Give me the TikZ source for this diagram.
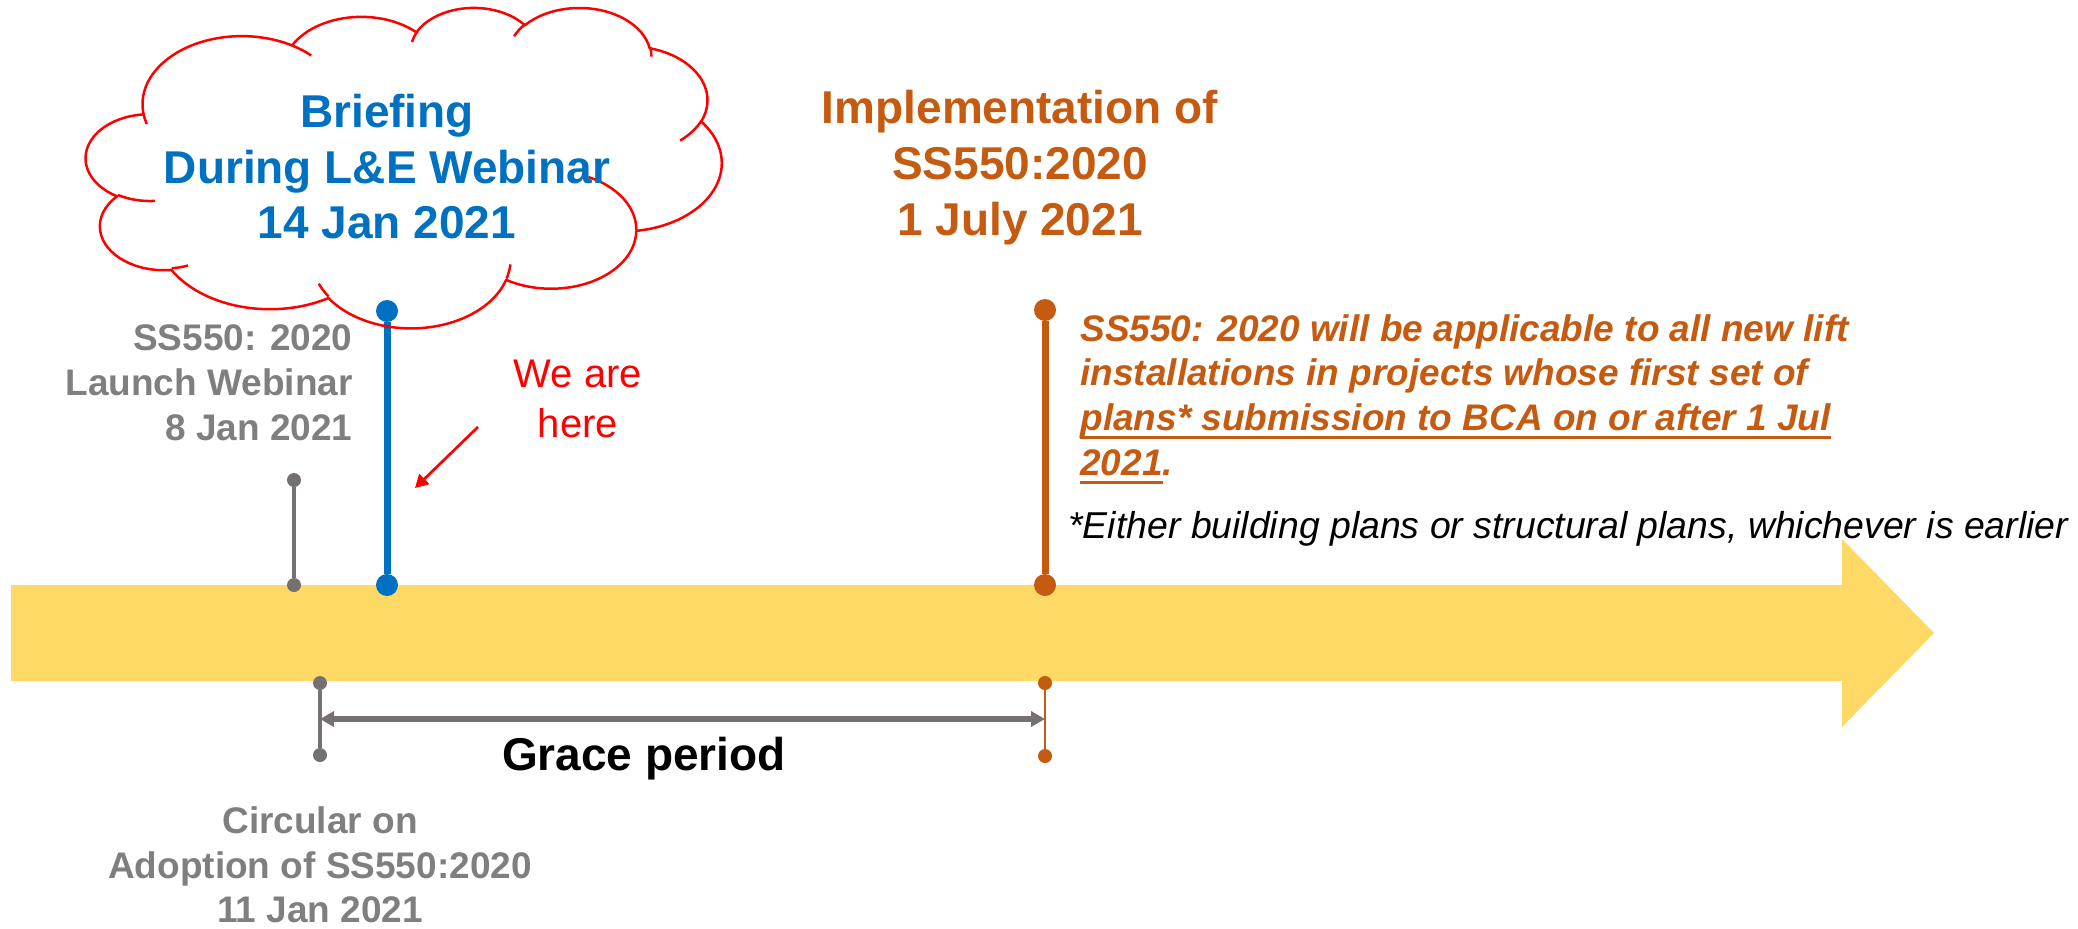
\documentclass[tikz,border=0pt]{standalone}
\usepackage{fontspec}
\setmainfont{Liberation Sans}
\usetikzlibrary{arrows.meta}
\definecolor{tlyellow}{HTML}{FFD966}
\definecolor{tlblue}{HTML}{0070C0}
\definecolor{tlorange}{HTML}{C55A11}
\definecolor{tlgrayline}{HTML}{767171}
\definecolor{tlgraytext}{HTML}{7F7F7F}
\newsavebox\ulbox
\newcommand\ulx[1]{\sbox\ulbox{#1}\rlap{\raisebox{-4.25pt}{\rule{\wd\ulbox}{1.5pt}}}\usebox\ulbox}
% OOXML arcTo -> TikZ arc (cloud shape 636 x 320 px, 1px = 0.5pt)
\newcommand\clprep[5]{%
  \pgfmathsetmacro\cloudtmpa{atan2((#2)*sin(#4),(#3)*cos(#4))}%
  \pgfmathsetmacro\cloudtmpb{atan2((#2)*sin((#4)+(#5)),(#3)*cos((#4)+(#5)))}%
  \pgfmathsetmacro\cloudtmpd{mod(\cloudtmpb-(\cloudtmpa)+720,360)}%
  \pgfmathsetmacro\cloudtmps{0-(\cloudtmpa)}%
  \pgfmathsetmacro\cloudtmpe{0-(\cloudtmpd)}%
  \pgfmathsetmacro\cloudtmpx{(#2)*0.00736111}%
  \pgfmathsetmacro\cloudtmpy{(#3)*0.0037037}%
  \expandafter\xdef\csname clrx#1\endcsname{\cloudtmpx pt}%
  \expandafter\xdef\csname clry#1\endcsname{\cloudtmpy pt}%
  \expandafter\xdef\csname clst#1\endcsname{\cloudtmps}%
  \expandafter\xdef\csname cld#1\endcsname{\cloudtmpe}%
}
\newcommand\clarc[1]{arc[x radius=\csname clrx#1\endcsname, y radius=\csname clry#1\endcsname, start angle=\csname clst#1\endcsname, delta angle=\csname cld#1\endcsname]}
\begin{document}
\begin{tikzpicture}[x=0.5pt,y=-0.5pt,
  timeline/.style={fill=tlyellow},
  cloudline/.style={draw=red, line width=1.25pt, line join=round},
  cloudhook/.style={draw=red, line width=1.25pt},
  txt/.style={inner sep=0pt, anchor=base},
  bigb/.style={font=\fontsize{23}{28}\selectfont\bfseries},
  midb/.style={font=\fontsize{18.5}{22.5}\selectfont\bfseries},
  parab/.style={font=\fontsize{18.5}{22.5}\selectfont\bfseries\itshape, text=tlorange, anchor=base west},
  bdot/.style={circle, fill=tlblue, inner sep=0pt, minimum size=11pt},
  odot/.style={circle, fill=tlorange, inner sep=0pt, minimum size=11pt},
  osdot/.style={circle, fill=tlorange, inner sep=0pt, minimum size=7pt},
  gdot/.style={circle, fill=tlgrayline, inner sep=0pt, minimum size=7pt},
  bluepin/.style={draw=tlblue, line width=3.5pt},
  orangepin/.style={draw=tlorange, line width=3.5pt},
  orangethin/.style={draw=tlorange, line width=1.2pt},
  graypin/.style={draw=tlgrayline, line width=2pt},
  grace/.style={draw=tlgrayline, line width=2.75pt, {Triangle[length=7pt,width=7.5pt]}-{Triangle[length=7pt,width=7.5pt]}},
  redarrow/.style={draw=red, line width=1.35pt, -{Triangle[length=6.5pt,width=7pt]}}
]
\useasboundingbox (0,0) rectangle (2078,928);

% timeline arrow
\fill[timeline] (11,585) -- (1842,585) -- (1842,539) -- (1934,633) -- (1842,727) -- (1842,681) -- (11,681) -- cycle;

% pins above the timeline
\node[gdot] (g1t) at (294,480) {};
\node[gdot] (g1b) at (294,585) {};
\draw[graypin] (g1t) -- (g1b);
\node[bdot] (bt) at (387,311) {};
\node[bdot] (bb) at (387,585) {};
\draw[bluepin] (bt) -- (bb);
\node[odot] (ot) at (1045,310) {};
\node[odot] (ob) at (1045,585) {};
\draw[orangepin] (ot) -- (ob);

% cloud (outline only, over the blue pin)
\clprep{A}{6753}{9190}{-190.4875}{123.7805}
\clprep{B}{5333}{7267}{-144.1024}{89.9452}
\clprep{C}{4365}{5945}{-145.8079}{99.7230}
\clprep{D}{4857}{6595}{-130.9861}{117.2417}
\clprep{E}{5333}{7273}{-78.7089}{109.0269}
\clprep{F}{6775}{9220}{-46.2673}{130.2690}
\clprep{G}{5785}{7867}{0.6250}{114.0333}
\clprep{H}{6752}{9215}{22.4516}{115.1726}
\clprep{I}{7720}{10543}{66.2426}{75.7110}
\clprep{J}{4360}{5918}{-274.9421}{146.7356}
\clprep{K}{4345}{5945}{-246.8285}{152.5189}
\clprep{L}{4345}{5945}{86.7420}{26.4295}
\clprep{M}{4360}{5918}{73.6105}{11.4475}
\clprep{N}{6752}{9215}{137.6242}{14.0811}
\clprep{O}{6752}{9215}{6.4533}{15.9984}
\clprep{P}{5785}{7867}{-70.2924}{70.9174}
\clprep{Q}{5333}{7273}{30.3180}{27.7515}
\clprep{R}{4857}{6595}{-13.7443}{14.8589}
\clprep{S}{4857}{6595}{-149.1815}{18.1954}
\clprep{T}{4365}{5945}{-163.4943}{17.6864}
\clprep{U}{6753}{9190}{-66.7070}{12.3194}
\clprep{V}{6753}{9190}{157.6544}{11.8582}
\draw[cloudline] (143.42,113.44) \clarc{A} \clarc{B} \clarc{C} \clarc{D} \clarc{E} \clarc{F} \clarc{G} \clarc{H} \clarc{I} \clarc{J} \clarc{K} -- cycle;
\draw[cloudhook] (155.09,200.90) \clarc{L} (187.99,265.51) \clarc{M} (328.59,296.56) \clarc{N} (510.40,264.41) \clarc{O} (588.46,177.03) \clarc{P} (701.36,120.73) \clarc{Q} (650.21,47.19) \clarc{R} (514.09,36.27) \clarc{S} (411.96,41.96) \clarc{T} (292.11,45.46) \clarc{U} (146.76,123.96) \clarc{V};

% cloud text
\node[txt, bigb, text=tlblue] (brief1) at (387,127) {Briefing};
\node[txt, bigb, text=tlblue] (brief2) at (387,183) {During L\&E Webinar};
\node[txt, bigb, text=tlblue] (brief3) at (387,238) {14 Jan 2021};

% implementation heading
\node[txt, bigb, text=tlorange] (impl1) at (1020,123) {Implementation of};
\node[txt, bigb, text=tlorange] (impl2) at (1020,179) {SS550:2020};
\node[txt, bigb, text=tlorange] (impl3) at (1020,235) {1 July 2021};

% launch webinar label
\node[txt, midb, text=tlgraytext, anchor=base east] (launch1) at (353,350) {SS550: 2020};
\node[txt, midb, text=tlgraytext, anchor=base east] (launch2) at (353,395) {Launch Webinar};
\node[txt, midb, text=tlgraytext, anchor=base east] (launch3) at (353,440) {8 Jan 2021};

% we are here
\node[txt, font=\fontsize{20}{25}\selectfont, text=red] (here1) at (578,387) {We are};
\node[txt, font=\fontsize{20}{25}\selectfont, text=red] (here2) at (578,437) {here};
\coordinate (ra) at (478,427);
\coordinate (rb) at (415,488);
\draw[redarrow] (ra) -- (rb);

% applicability paragraph
\node[txt, parab] (para1) at (1080,341) {SS550: 2020 will be applicable to all new lift};
\node[txt, parab] (para2) at (1080,385) {installations in projects whose first set of};
\node[txt, parab] (para3) at (1080,430) {\ulx{plans* submission to BCA on or after 1 Jul}};
\node[txt, parab] (para4) at (1080,475) {\ulx{2021}.};
\node[txt, font=\fontsize{18.7}{22.5}\selectfont\itshape, anchor=base west] (foot) at (1068,538) {*Either building plans or structural plans, whichever is earlier};

% pins below the timeline
\node[gdot] (g2t) at (320,683) {};
\node[gdot] (g2b) at (320,755) {};
\draw[graypin] (g2t) -- (g2b);
\node[osdot] (o2t) at (1045,683) {};
\node[osdot] (o2b) at (1045,756) {};
\draw[orangethin] (o2t) -- (o2b);

% grace period
\coordinate (gl) at (320,719);
\coordinate (gr) at (1045,719);
\draw[grace] (gl) -- (gr);
\node[txt, bigb] (gracetxt) at (644,770) {Grace period};

% circular label
\node[txt, midb, text=tlgraytext] (circ1) at (320,833) {Circular on};
\node[txt, midb, text=tlgraytext] (circ2) at (320,878) {Adoption of SS550:2020};
\node[txt, midb, text=tlgraytext] (circ3) at (320,922) {11 Jan 2021};
\end{tikzpicture}
\end{document}
